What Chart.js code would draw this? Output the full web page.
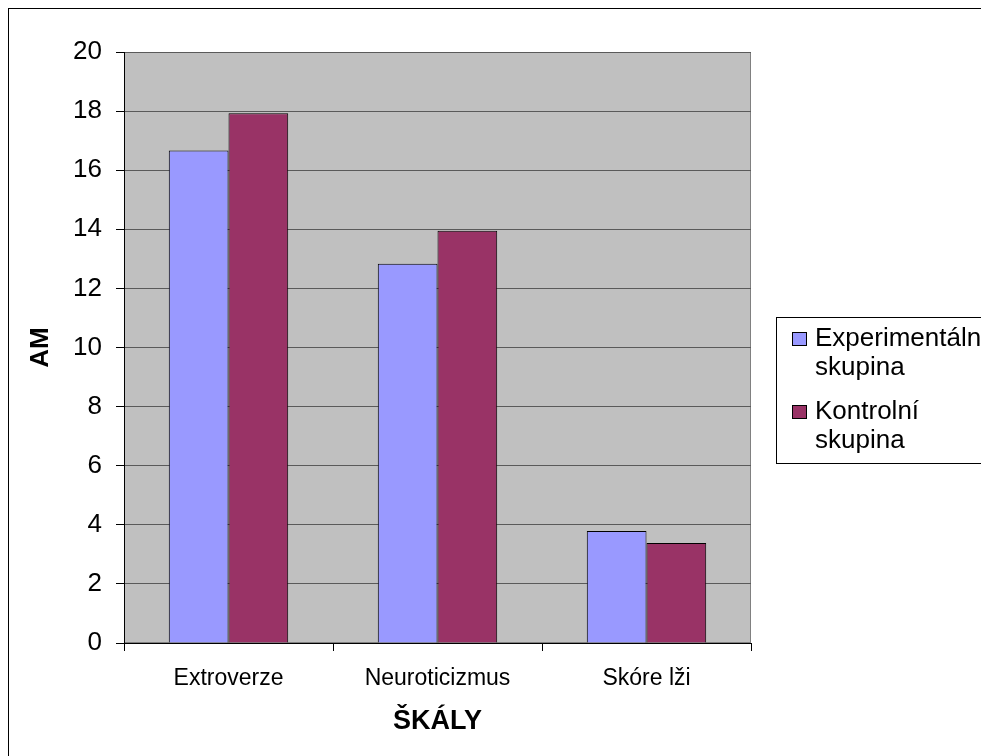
<!DOCTYPE html>
<html>
<head>
<meta charset="utf-8">
<script src="https://cdn.jsdelivr.net/npm/chart.js@4/dist/chart.umd.min.js"></script>
<style>
  html, body { margin: 0; padding: 0; background: #fff; overflow: hidden; }
  #frame { position: absolute; left: 8px; top: 8px; width: 1200px; height: 1000px;
           border: 1px solid #000; box-sizing: border-box; }
  #c { position: absolute; left: 0; top: 0; }
</style>
</head>
<body>
<div id="frame"></div>
<canvas id="c" width="981" height="756"></canvas>
<script>
// Scales of the questionnaire and mean scores (AM) of both groups
const categories = ['Extroverze', 'Neuroticizmus', 'Skóre lži'];
const experimentalValues = [16.67, 12.83, 3.79];
const controlValues = [17.93, 13.95, 3.38];
const seriesNames = ['Experimentální skupina', 'Kontrolní skupina'];
const yTickValues = [0, 2, 4, 6, 8, 10, 12, 14, 16, 18, 20];

const FONT = "'Liberation Sans', Arial, Helvetica, sans-serif";
Chart.defaults.font.family = FONT;
Chart.defaults.color = '#000';

// Grey plot area with a thin frame
const plotBackground = {
  id: 'plotBackground',
  beforeDraw(chart) {
    const { ctx, chartArea: a } = chart;
    ctx.save();
    ctx.fillStyle = '#C0C0C0';
    ctx.fillRect(a.left, a.top, a.right - a.left, a.bottom - a.top);
    ctx.strokeStyle = '#808080';
    ctx.lineWidth = 1;
    ctx.strokeRect(a.left + 0.5, a.top + 0.5, a.right - a.left - 1, a.bottom - a.top - 1);
    ctx.restore();
  }
};

// Boxed legend to the right of the plot, names wrapped onto two lines
const boxedLegend = {
  id: 'boxedLegend',
  afterDraw(chart) {
    const { ctx, chartArea: a } = chart;
    const x = Math.round(a.right) + 25 + 0.5;
    const y = 317.5;
    const h = 146;
    ctx.save();
    ctx.fillStyle = '#fff';
    ctx.fillRect(x, y, 400, h);
    ctx.strokeStyle = '#000';
    ctx.lineWidth = 1;
    ctx.strokeRect(x, y, 400, h);
    ctx.font = '26px ' + FONT;
    ctx.textBaseline = 'middle';
    ctx.textAlign = 'left';
    const itemTop = [339, 412];
    chart.data.datasets.forEach((ds, i) => {
      const cy = itemTop[i];
      ctx.fillStyle = ds.backgroundColor;
      ctx.fillRect(x + 16, cy - 6.5, 14, 13);
      ctx.strokeStyle = '#000';
      ctx.strokeRect(x + 16, cy - 6.5, 14, 13);
      ctx.fillStyle = '#000';
      ds.label.split(' ').forEach((line, j) => {
        ctx.fillText(line, x + 38.5, cy + j * 29);
      });
    });
    ctx.restore();
  }
};

new Chart(document.getElementById('c'), {
  type: 'bar',
  data: {
    labels: categories,
    datasets: [
      { label: seriesNames[0], data: experimentalValues, backgroundColor: '#9999FF',
        borderColor: '#000', borderWidth: 1 },
      { label: seriesNames[1], data: controlValues, backgroundColor: '#993366',
        borderColor: '#000', borderWidth: 1 }
    ]
  },
  options: {
    responsive: false,
    animation: false,
    devicePixelRatio: 1,
    categoryPercentage: 2 / 3.5,
    barPercentage: 1,
    layout: { padding: { left: 0, top: 52, right: 230, bottom: 0 } },
    plugins: {
      legend: { display: false },
      tooltip: { enabled: false }
    },
    scales: {
      x: {
        afterFit(scale) { scale.height = 113; },
        grid: { drawOnChartArea: false, drawTicks: true, tickLength: 8, tickColor: '#000', offset: true },
        border: { display: true, color: '#000', width: 1 },
        ticks: { font: { size: 23 }, color: '#000', padding: 14 },
        title: { display: true, text: 'ŠKÁLY', font: { size: 27, weight: 'bold' },
                 color: '#000', padding: { top: 0, bottom: 18 } }
      },
      y: {
        min: 0,
        max: 20,
        afterFit(scale) { scale.width = 124; },
        afterBuildTicks(scale) { scale.ticks = yTickValues.map(v => ({ value: v })); },
        grid: {
          color: ctx => (ctx.tick && ctx.tick.value === 0 ? '#000' : '#5a5a5a'),
          tickColor: '#000', tickLength: 8, lineWidth: 1
        },
        border: { display: true, color: '#000', width: 1 },
        ticks: { font: { size: 26 }, color: '#000', padding: 14 },
        title: { display: true, text: 'AM', font: { size: 26, weight: 'bold' },
                 color: '#000', padding: { top: 25, bottom: 0 } }
      }
    }
  },
  plugins: [plotBackground, boxedLegend]
});
</script>
</body>
</html>
